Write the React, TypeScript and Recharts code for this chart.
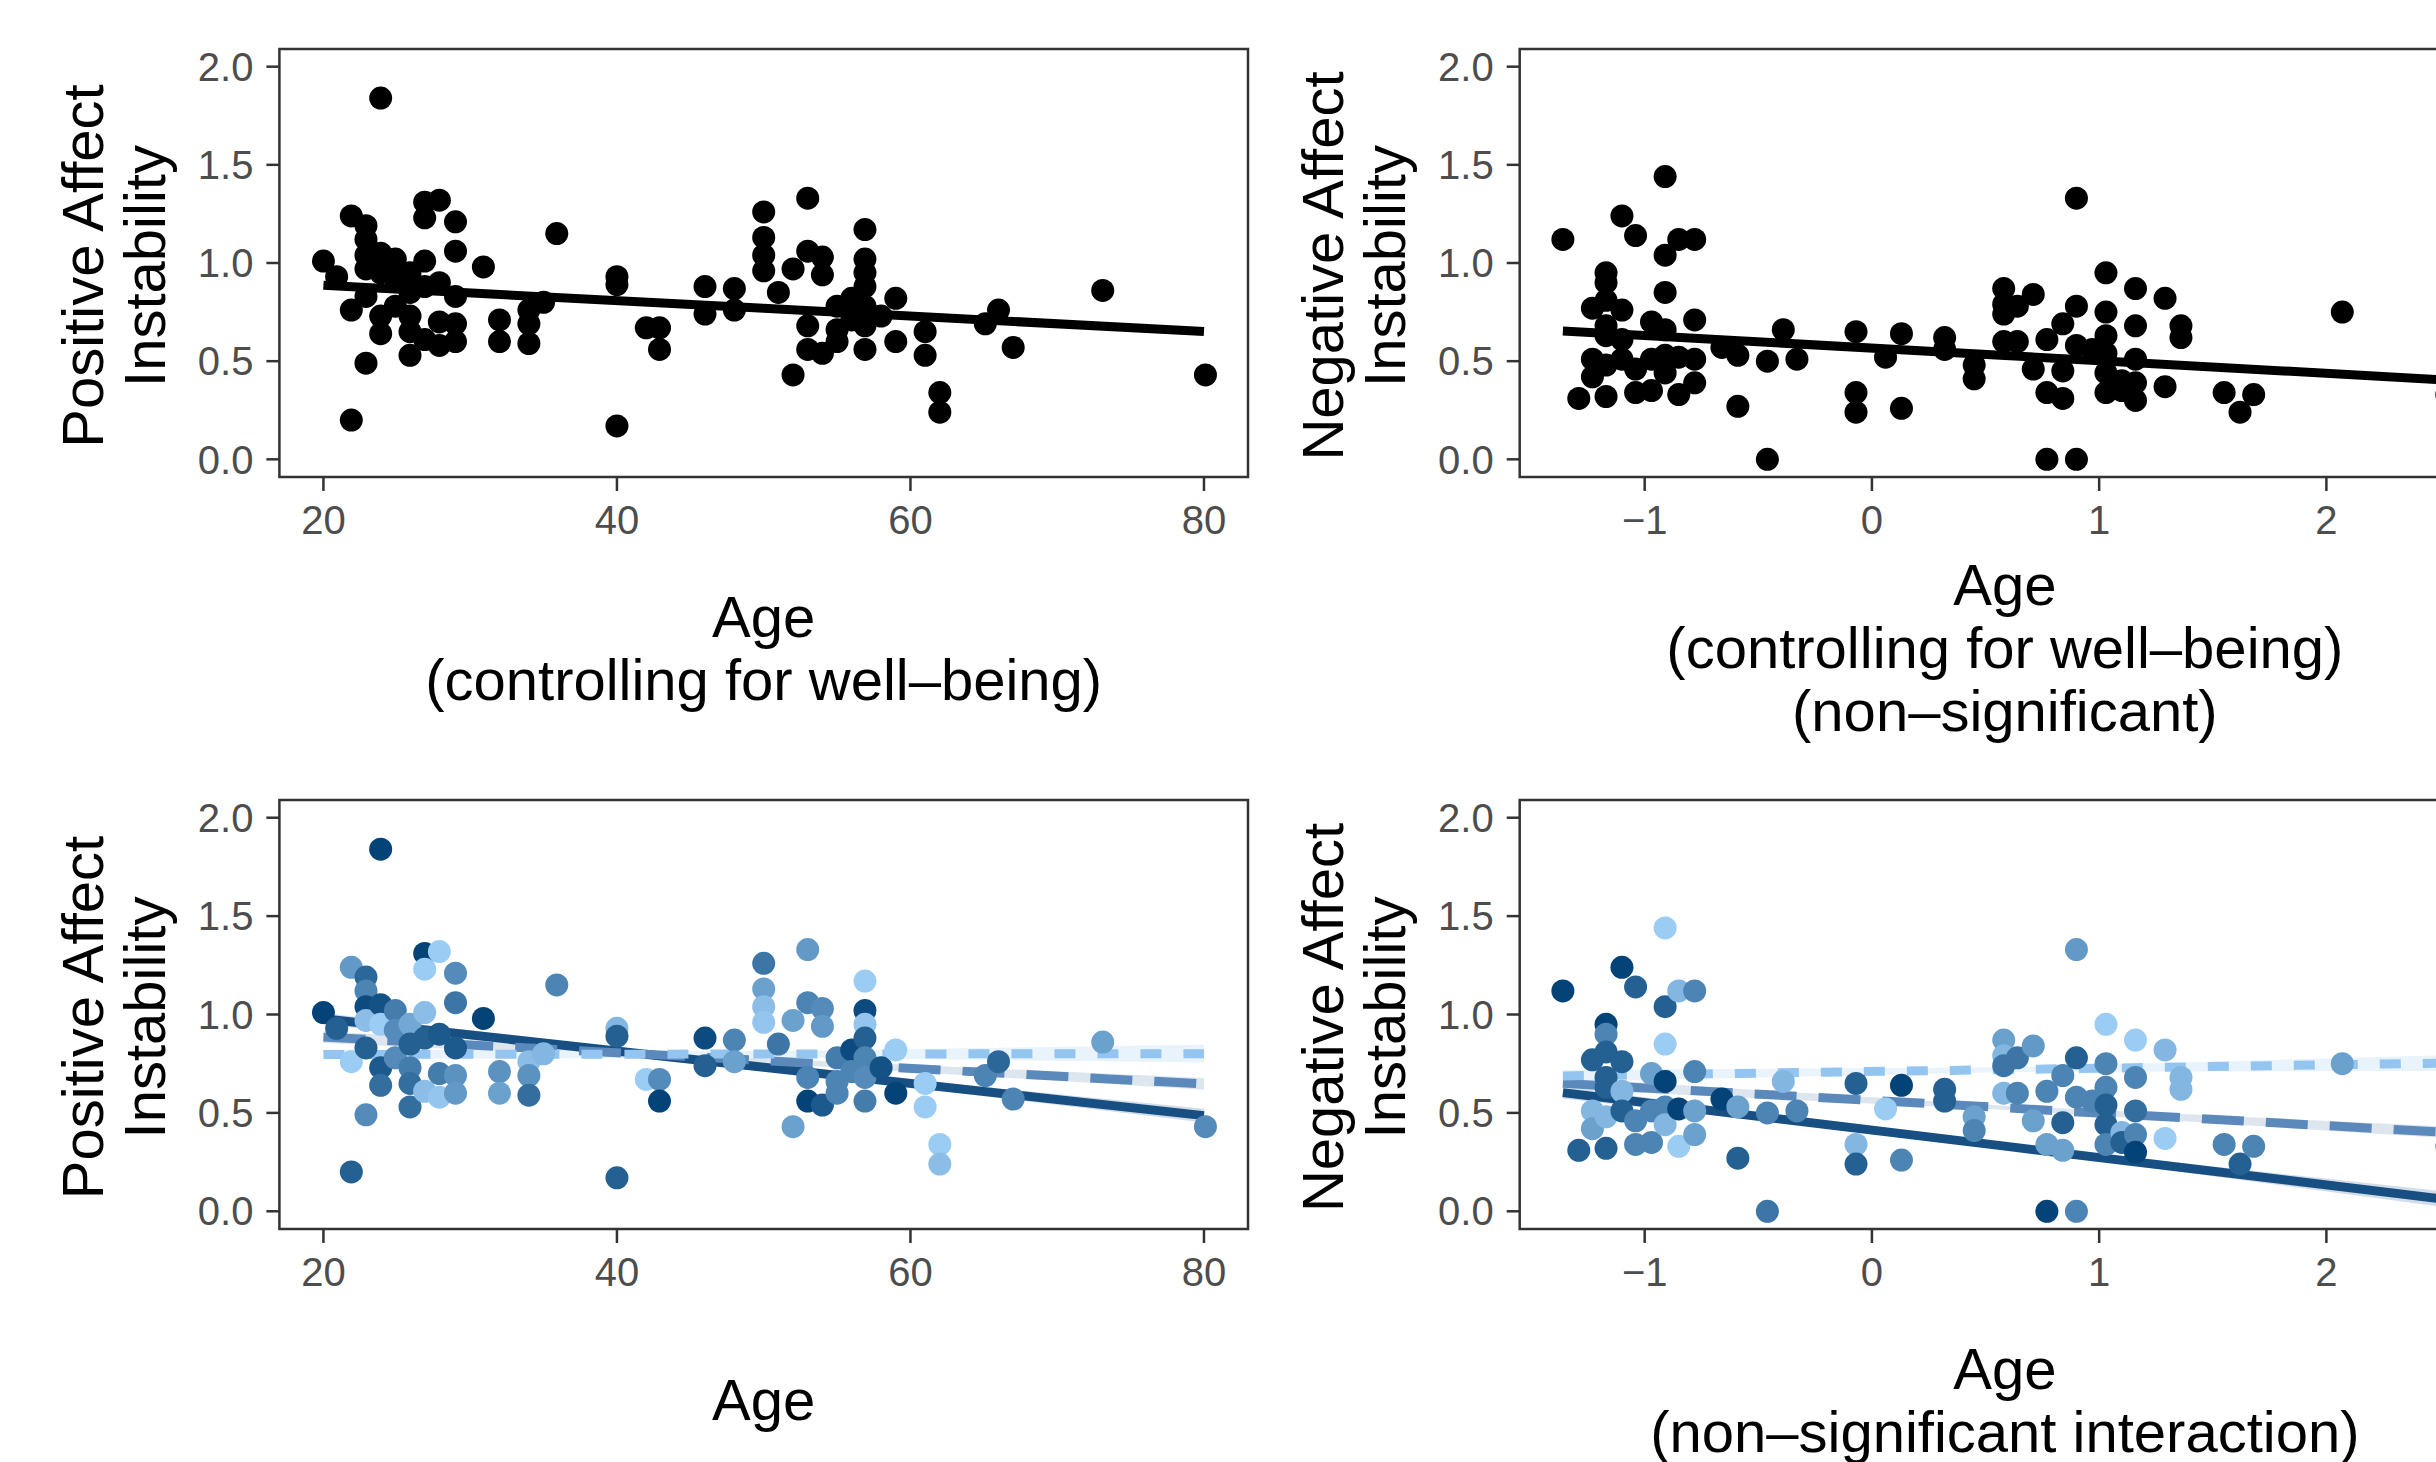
import { ComposedChart, Scatter, Line, Area, XAxis, YAxis, ReferenceArea } from 'recharts';

// positive affect instability by age (shade = moderator level, 0 dark .. 1 light)
const paAge = [
  20, 20.9, 21.9, 21.9, 21.9, 22.9, 22.9, 22.9, 22.9, 22.9, 22.9, 23.9, 23.9, 23.9, 23.9, 23.9,
  24.9, 24.9, 24.9, 25.9, 25.9, 25.9, 25.9, 25.9, 26.9, 26.9, 26.9, 26.9, 26.9, 27.9, 27.9, 27.9,
  27.9, 29, 29, 29, 29, 29, 30.9, 32, 32, 34, 34, 34, 35, 35.9, 40, 40, 40, 42, 42.9, 42.9, 46, 46,
  48, 48, 50, 50, 50, 50, 51, 52, 52, 53, 53, 53, 53, 54, 54, 54, 55, 55, 55, 56, 56, 56.9, 56.9,
  56.9, 56.9, 56.9, 56.9, 56.9, 58, 59, 59, 61, 61, 62, 62, 65.1, 66, 67, 73.1, 80.1,
];
const paValue = [
  1.01, 0.93, 1.24, 0.76, 0.2, 1.19, 1.12, 1.04, 0.97, 0.83, 0.49, 1.05, 0.95, 0.73, 0.64, 1.84,
  1.02, 0.92, 0.78, 0.95, 0.85, 0.73, 0.65, 0.53, 1.31, 1.23, 1.01, 0.88, 0.61, 1.32, 0.9, 0.7,
  0.58, 1.21, 1.06, 0.83, 0.69, 0.6, 0.98, 0.71, 0.6, 0.76, 0.69, 0.59, 0.8, 1.15, 0.93, 0.89, 0.17, 0.67, 0.67, 0.56, 0.88, 0.74,
  0.87, 0.76, 1.26, 1.13, 1.04, 0.96, 0.85, 0.97, 0.43, 1.33, 1.06, 0.68, 0.56, 1.03, 0.94, 0.54, 0.78, 0.66, 0.6, 0.82, 0.71, 1.17, 1.02,
  0.95, 0.88, 0.78, 0.68, 0.56, 0.73, 0.82, 0.6, 0.65, 0.53, 0.34, 0.24, 0.69, 0.76, 0.57, 0.86, 0.43,
];
const paShade = [
  0, 0.2, 0.6, 0.95, 0.2, 0.25, 0.45, 0.05, 0.85, 0.2, 0.5, 0.1, 0.95, 0.15, 0.3, 0,
  0.4, 0.5, 0.5, 0.7, 0.2, 0.4, 0.3, 0.3, 0, 0.95, 0.85, 0.2, 0.85, 0.95, 0.15, 0.4,
  0.9, 0.5, 0.35, 0.15, 0.55, 0.6, 0, 0.55, 0.65, 0.85, 0.55, 0.3, 0.8, 0.45, 0.8, 0.2, 0.2, 0.95, 0.5, 0, 0.05, 0.2,
  0.45, 0.65, 0.35, 0.65, 0.85, 0.9, 0.35, 0.65, 0.65, 0.6, 0.45, 0.45, 0, 0.5, 0.6, 0.15, 0.4, 0.45, 0.45, 0.05, 0.45, 0.95, 0.05,
  0.9, 0.2, 0.45, 0.5, 0.4, 0.1, 0.95, 0, 0.95, 0.95, 0.95, 0.85, 0.45, 0.25, 0.45, 0.65, 0.5,
];

// negative affect instability by standardised score
const naScore = [
  -1.36, -1.29, -1.23, -1.23, -1.23, -1.17, -1.17, -1.17, -1.17, -1.17, -1.17, -1.17, -1.1, -1.1, -1.1, -1.1,
  -1.04, -1.04, -1.04, -0.97, -0.97, -0.97, -0.91, -0.91, -0.91, -0.91, -0.91, -0.91, -0.85, -0.85, -0.85,
  -0.78, -0.78, -0.78, -0.78, -0.66, -0.59, -0.59, -0.46, -0.46, -0.39, -0.33, -0.07, -0.07, -0.07, 0.06,
  0.13, 0.13, 0.32, 0.32, 0.45, 0.45, 0.58, 0.58, 0.58, 0.58, 0.64, 0.64, 0.71, 0.71, 0.77, 0.77, 0.77,
  0.84, 0.84, 0.84, 0.9, 0.9, 0.9, 0.9, 0.97, 1.03, 1.03, 1.03, 1.03, 1.03, 1.03, 1.1, 1.1, 1.16, 1.16,
  1.16, 1.16, 1.16, 1.29, 1.29, 1.36, 1.36, 1.55, 1.62, 1.68, 2.07, 2.53,
];
const naValue = [
  1.12, 0.31, 0.77, 0.51, 0.42, 0.95, 0.9, 0.81, 0.68, 0.63, 0.48, 0.32, 1.24, 0.76, 0.61, 0.51,
  1.14, 0.46, 0.34, 0.7, 0.51, 0.35, 1.44, 1.04, 0.85, 0.66, 0.53, 0.44, 1.12, 0.52, 0.33,
  1.12, 0.71, 0.51, 0.39, 0.57, 0.53, 0.27, 0.5, 0, 0.66, 0.51, 0.65, 0.34, 0.24, 0.52,
  0.64, 0.26, 0.62, 0.56, 0.48, 0.41, 0.87, 0.79, 0.74, 0.6, 0.78, 0.6, 0.84, 0.46, 0.61, 0.34, 0,
  0.69, 0.45, 0.31, 1.33, 0.78, 0.58, 0, 0.56, 0.95, 0.75, 0.63, 0.54, 0.44, 0.34, 0.4, 0.35, 0.87, 0.68,
  0.51, 0.39, 0.3, 0.82, 0.37, 0.68, 0.62, 0.34, 0.24, 0.33, 0.75, 0.33,
];
const naShade = [
  0, 0.2, 0.2, 0.8, 0.65, 0, 0.45, 0.2, 0.2, 0.2, 0.8, 0.2, 0, 0.2, 0.8, 0.2,
  0.2, 0.45, 0.45, 0.65, 0.45, 0.45, 0.95, 0.2, 0.95, 0, 0.45, 0.8, 0.8, 0, 0.95,
  0.45, 0.45, 0.65, 0.65, 0, 0.65, 0.2, 0.45, 0.35, 0.8, 0.45, 0.2, 0.8, 0.2, 0.95,
  0, 0.45, 0.2, 0.2, 0.65, 0.45, 0.65, 0.8, 0.35, 0.8, 0.35, 0.45, 0.6, 0.65, 0.45, 0.65, 0,
  0.45, 0.2, 0.65, 0.6, 0.2, 0.45, 0.45, 0.45, 0.95, 0.45, 0.45, 0.2, 0.2, 0.45, 0.8, 0.2, 0.95, 0.45,
  0.3, 0.45, 0, 0.8, 0.95, 0.8, 0.8, 0.45, 0.2, 0.45, 0.65, 0.45,
];

const ageTicks = [20, 40, 60, 80];
const scoreTicks = [-1, 0, 1, 2];
const instabilityTicks = [0, 0.5, 1, 1.5, 2];

// fitted lines (x at start, middle, end) and ribbon half widths
const ageFitX = [20, 50, 80];
const paFitOverall = [0.887, 0.769, 0.651];
const paFitLow = [0.978, 0.732, 0.486];
const paFitMid = [0.885, 0.766, 0.647];
const paFitHigh = [0.797, 0.799, 0.801];
const paHalfLow = [0.03, 0.012, 0.035];
const paHalfMid = [0.03, 0.012, 0.03];
const paHalfHigh = [0.025, 0.015, 0.045];

const scoreFitX = [-1.36, 0.585, 2.53];
const naFitOverall = [0.654, 0.529, 0.404];
const naFitLow = [0.603, 0.331, 0.06];
const naFitMid = [0.65, 0.526, 0.401];
const naFitHigh = [0.688, 0.72, 0.753];
const naHalfLow = [0.03, 0.012, 0.04];
const naHalfMid = [0.03, 0.01, 0.03];
const naHalfHigh = [0.03, 0.012, 0.04];

const DARK = [4, 67, 120];
const LIGHT = [163, 211, 251];
const shadeColor = (s: number) =>
  `rgb(${DARK.map((d, i) => Math.round(d + (LIGHT[i] - d) * s)).join(',')})`;

const paPoints = paAge.map((x, i) => ({ x, y: paValue[i], s: paShade[i] }));
const naPoints = naScore.map((x, i) => ({ x, y: naValue[i], s: naShade[i] }));

const Y_DOMAIN = [-0.09, 2.09];
const TITLE_SIZE = 58;
const TICK_SIZE = 40;
const fmtX = (v: number) => (v < 0 ? '\u2212' + Math.abs(v) : String(v));

const XTitle = (props: any) => {
  const { viewBox, lines } = props;
  const cx = viewBox.x + viewBox.width / 2;
  const first = 191 - (lines.length - 1) * 31.5;
  return (
    <text textAnchor="middle" fontSize={TITLE_SIZE} fill="#000">
      {lines.map((l: string, i: number) => (
        <tspan key={i} x={cx} y={viewBox.y + first + i * 63}>{l}</tspan>
      ))}
    </text>
  );
};

const YTitle = (props: any) => {
  const { viewBox, lines } = props;
  const px = viewBox.x + viewBox.width;
  const cy = viewBox.y + viewBox.height / 2 + 3;
  return (
    <g>
      {lines.map((l: string, i: number) => {
        const bx = px - 176.4 + i * 62;
        return (
          <text key={i} x={bx} y={cy} transform={`rotate(-90, ${bx}, ${cy})`} textAnchor="middle" fontSize={TITLE_SIZE} fill="#000">
            {l}
          </text>
        );
      })}
    </g>
  );
};

type Fit = { ys: number[]; half?: number[]; color: string; band?: string; dash?: string };

function Panel(props: any) {
  const { left, top, width, height, margin, xDomain, xTicks, fitX, fits, points, colored, xLines, yLines, axisH } = props;
  return (
    <div style={{ position: 'absolute', left, top }}>
      <ComposedChart width={width} height={height} margin={margin}>
        <XAxis
          type="number"
          dataKey="x"
          domain={xDomain}
          ticks={xTicks}
          tickFormatter={fmtX}
          height={axisH}
          axisLine={false}
          tickLine={{ stroke: '#333', strokeWidth: 2.5 }}
          tickSize={14}
          tickMargin={15}
          tick={{ fontSize: TICK_SIZE, fill: '#4D4D4D' }}
          label={(p: any) => <XTitle {...p} lines={xLines} />}
        />
        <YAxis
          type="number"
          dataKey="y"
          domain={Y_DOMAIN}
          ticks={instabilityTicks}
          tickFormatter={(v: number) => v.toFixed(1)}
          width={200}
          axisLine={false}
          tickLine={{ stroke: '#333', strokeWidth: 2.5 }}
          tickSize={13}
          tickMargin={13}
          tick={{ fontSize: TICK_SIZE, fill: '#4D4D4D' }}
          label={(p: any) => <YTitle {...p} lines={yLines} />}
        />
        {fits.map((f: Fit, i: number) =>
          f.half ? (
            <Area
              key={'band' + i}
              data={fitX.map((x: number, j: number) => ({ x, band: [f.ys[j] - f.half![j], f.ys[j] + f.half![j]] }))}
              dataKey="band"
              type="linear"
              stroke="none"
              fill={f.band}
              fillOpacity={1}
              isAnimationActive={false}
            />
          ) : null
        )}
        {fits.map((f: Fit, i: number) => (
          <Line
            key={'fit' + i}
            data={fitX.map((x: number, j: number) => ({ x, y: f.ys[j] }))}
            dataKey="y"
            type="linear"
            stroke={f.color}
            strokeWidth={9}
            strokeDasharray={f.dash}
            dot={false}
            activeDot={false}
            isAnimationActive={false}
          />
        ))}
        <Scatter
          data={points}
          dataKey="y"
          isAnimationActive={false}
          shape={(p: any) => (
            <circle cx={p.cx} cy={p.cy} r={11.5} fill={colored ? shadeColor(p.payload.s) : '#000'} />
          )}
        />
        <ReferenceArea
          x1={xDomain[0]}
          x2={xDomain[1]}
          y1={Y_DOMAIN[0]}
          y2={Y_DOMAIN[1]}
          fill="none"
          stroke="#333"
          strokeWidth={2.5}
          ifOverflow="visible"
        />
      </ComposedChart>
    </div>
  );
}

const AGE_DOMAIN = [17, 83];
const SCORE_DOMAIN = [-1.55, 2.72];

export default function App() {
  const leftTop = { top: 49, right: 22, left: 79.4, bottom: 23 };
  const rightTop = { top: 49, right: 10, left: 69.7, bottom: 23 };
  const leftBottom = { top: 48, right: 22, left: 79.4, bottom: 43 };
  const rightBottom = { top: 48, right: 10, left: 69.7, bottom: 43 };

  const paGroups: Fit[] = [
    { ys: paFitLow, half: paHalfLow, color: '#174F82', band: '#D3DDE8' },
    { ys: paFitMid, half: paHalfMid, color: '#5B89BB', band: '#DDE5EF', dash: '42 22' },
    { ys: paFitHigh, half: paHalfHigh, color: '#93C5F0', band: '#E8F3FC', dash: '21 22' },
  ];
  const naGroups: Fit[] = [
    { ys: naFitLow, half: naHalfLow, color: '#174F82', band: '#D3DDE8' },
    { ys: naFitMid, half: naHalfMid, color: '#5B89BB', band: '#DDE5EF', dash: '42 22' },
    { ys: naFitHigh, half: naHalfHigh, color: '#93C5F0', band: '#E8F3FC', dash: '21 22' },
  ];

  return (
    <div
      style={{
        position: 'absolute',
        left: 0,
        top: 0,
        width: 2436,
        height: 1462,
        overflow: 'hidden',
        background: '#fff',
        fontFamily: "'Liberation Sans', Arial, Helvetica, sans-serif",
      }}
    >
      <Panel
        left={0} top={0} width={1270} height={760} margin={leftTop} axisH={260}
        xDomain={AGE_DOMAIN} xTicks={ageTicks} fitX={ageFitX}
        fits={[{ ys: paFitOverall, color: '#000' }]}
        points={paPoints} colored={false}
        xLines={['Age', '(controlling for well\u2013being)']}
        yLines={['Positive Affect', 'Instability']}
      />
      <Panel
        left={1250} top={0} width={1250} height={760} margin={rightTop} axisH={260}
        xDomain={SCORE_DOMAIN} xTicks={scoreTicks} fitX={scoreFitX}
        fits={[{ ys: naFitOverall, color: '#000' }]}
        points={naPoints} colored={false}
        xLines={['Age', '(controlling for well\u2013being)', '(non\u2013significant)']}
        yLines={['Negative Affect', 'Instability']}
      />
      <Panel
        left={0} top={752} width={1270} height={720} margin={leftBottom} axisH={200}
        xDomain={AGE_DOMAIN} xTicks={ageTicks} fitX={ageFitX}
        fits={paGroups}
        points={paPoints} colored
        xLines={['Age']}
        yLines={['Positive Affect', 'Instability']}
      />
      <Panel
        left={1250} top={752} width={1250} height={720} margin={rightBottom} axisH={200}
        xDomain={SCORE_DOMAIN} xTicks={scoreTicks} fitX={scoreFitX}
        fits={naGroups}
        points={naPoints} colored
        xLines={['Age', '(non\u2013significant interaction)']}
        yLines={['Negative Affect', 'Instability']}
      />
    </div>
  );
}
